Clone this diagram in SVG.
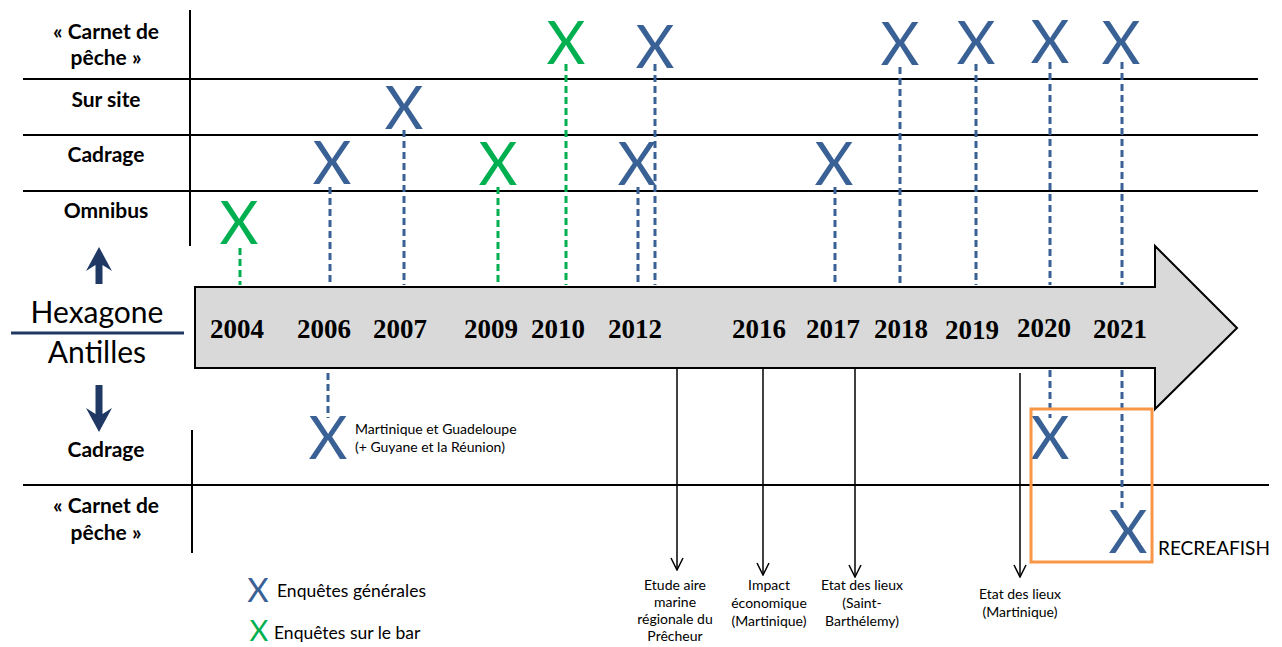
<svg xmlns="http://www.w3.org/2000/svg" width="1282" height="647" viewBox="0 0 1282 647">
<defs>
<style>
.grid{stroke:#000;stroke-width:2;fill:none}
.rowlbl{font-family:Lato,"Liberation Sans",sans-serif;font-weight:bold;font-size:21px;fill:#000;text-anchor:middle}
.xb{font-family:Lato,"Liberation Sans",sans-serif;font-size:60px;fill:#3A6195;text-anchor:middle}
.xg{font-family:Lato,"Liberation Sans",sans-serif;font-size:60px;fill:#00B050;text-anchor:middle}
.yr{font-family:"Liberation Serif","Times New Roman",serif;font-weight:bold;font-size:27px;fill:#000;text-anchor:middle}
.dashb{stroke:#3A6195;stroke-width:3;stroke-dasharray:7 4;fill:none}
.dashg{stroke:#00B050;stroke-width:3;stroke-dasharray:7 4;fill:none}
.blk{stroke:#000;stroke-width:1.5;fill:none}
.note{font-family:Lato,"Liberation Sans",sans-serif;font-size:14px;fill:#000;text-anchor:middle}
.small{font-family:Lato,"Liberation Sans",sans-serif;font-size:14px;fill:#000}
.navy{fill:#1F3864}
</style>
<marker id="open" viewBox="0 0 14 14" refX="13" refY="7" markerWidth="14" markerHeight="14" markerUnits="userSpaceOnUse" orient="auto">
<path d="M1,1 L13,7 L1,13" fill="none" stroke="#000" stroke-width="1.5"/>
</marker>
</defs>
<rect width="1282" height="647" fill="#fff"/>

<g id="grid">
<line class="grid" x1="190" y1="10" x2="190" y2="246"/>
<line class="grid" x1="23" y1="79" x2="1258" y2="79"/>
<line class="grid" x1="23" y1="135" x2="1258" y2="135"/>
<line class="grid" x1="23" y1="191" x2="1258" y2="191"/>
<line class="grid" x1="192" y1="430" x2="192" y2="553"/>
<line class="grid" x1="23" y1="485" x2="1269" y2="485"/>
</g>

<g id="timeline-arrow">
<path d="M195,287 L1155,287 L1155,246 L1237,328 L1155,409 L1155,368 L195,368 Z" fill="#D9D9D9" stroke="#000" stroke-width="2"/>
</g>

<g id="row-labels">
<text class="rowlbl" x="106" y="39">« Carnet de</text>
<text class="rowlbl" x="106" y="65">pêche »</text>
<text class="rowlbl" x="106" y="107">Sur site</text>
<text class="rowlbl" x="106" y="162">Cadrage</text>
<text class="rowlbl" x="106" y="218">Omnibus</text>
<text class="rowlbl" x="106" y="457">Cadrage</text>
<text class="rowlbl" x="106" y="513">« Carnet de</text>
<text class="rowlbl" x="106" y="540">pêche »</text>
</g>

<g id="hexagone-antilles">
<text x="97" y="323" font-family="Lato,'Liberation Sans',sans-serif" font-size="30" text-anchor="middle" fill="#000">Hexagone</text>
<line x1="11" y1="333" x2="184" y2="333" stroke="#1F3864" stroke-width="3"/>
<text x="97" y="363" font-family="Lato,'Liberation Sans',sans-serif" font-size="30" text-anchor="middle" fill="#000">Antilles</text>
<polygon class="navy" points="99,247 112,271 102.5,265 102.5,284 95.5,284 95.5,265 86,271"/>
<polygon class="navy" points="99,432 112,408 102.5,414 102.5,385 95.5,385 95.5,414 86,408"/>
</g>

<g id="years">
<text class="yr" x="237" y="338">2004</text>
<text class="yr" x="324" y="338">2006</text>
<text class="yr" x="400" y="338">2007</text>
<text class="yr" x="491" y="338">2009</text>
<text class="yr" x="558" y="338">2010</text>
<text class="yr" x="635" y="338">2012</text>
<text class="yr" x="759" y="338">2016</text>
<text class="yr" x="833" y="338">2017</text>
<text class="yr" x="901" y="338">2018</text>
<text class="yr" x="972" y="339">2019</text>
<text class="yr" x="1044" y="337">2020</text>
<text class="yr" x="1120" y="338">2021</text>
</g>

<g id="connectors">
<line class="dashg" x1="240" y1="248" x2="240" y2="285"/>
<line class="dashb" x1="330" y1="187" x2="330" y2="285"/>
<line class="dashb" x1="328" y1="373" x2="328" y2="418"/>
<line class="dashb" x1="404" y1="130" x2="404" y2="285"/>
<line class="dashg" x1="498" y1="187" x2="498" y2="285"/>
<line class="dashg" x1="566" y1="64" x2="566" y2="285"/>
<line class="dashb" x1="638" y1="187" x2="638" y2="285"/>
<line class="dashb" x1="655" y1="64" x2="655" y2="285"/>
<line class="dashb" x1="835" y1="187" x2="835" y2="285"/>
<line class="dashb" x1="900" y1="67" x2="900" y2="285"/>
<line class="dashb" x1="976" y1="64" x2="976" y2="285"/>
<line class="dashb" x1="1050" y1="62" x2="1050" y2="285"/>
<line class="dashb" x1="1122" y1="62" x2="1122" y2="285"/>
<line class="dashb" x1="1050" y1="370" x2="1050" y2="418"/>
<line class="dashb" x1="1122" y1="370" x2="1122" y2="508"/>
<line class="blk" x1="677" y1="369" x2="677" y2="570" marker-end="url(#open)"/>
<line class="blk" x1="763" y1="369" x2="763" y2="575" marker-end="url(#open)"/>
<line class="blk" x1="855" y1="369" x2="855" y2="577" marker-end="url(#open)"/>
<line class="blk" x1="1020" y1="373" x2="1020" y2="577" marker-end="url(#open)"/>
</g>

<g id="marks">
<text class="xg" x="566" y="64">X</text>
<text class="xb" x="655" y="68">X</text>
<text class="xb" x="900" y="65">X</text>
<text class="xb" x="976" y="64">X</text>
<text class="xb" x="1050" y="63">X</text>
<text class="xb" x="1121" y="64">X</text>
<text class="xb" x="404" y="129">X</text>
<text class="xb" x="332" y="184">X</text>
<text class="xg" x="498" y="185">X</text>
<text class="xb" x="637" y="185">X</text>
<text class="xb" x="834" y="185">X</text>
<text class="xg" x="239" y="244">X</text>
<text class="xb" x="328" y="459">X</text>
<text class="xb" x="1050" y="459">X</text>
<text class="xb" x="1128" y="553">X</text>
</g>

<g id="annotation-2006">
<text class="small" x="355" y="434">Martinique et Guadeloupe</text>
<text class="small" x="355" y="452">(+ Guyane et la Réunion)</text>
</g>

<g id="recreafish">
<rect x="1031" y="409" width="121" height="153" fill="none" stroke="#F79646" stroke-width="3"/>
<text x="1158" y="555" font-family="Lato,'Liberation Sans',sans-serif" font-size="19" fill="#000">RECREAFISH</text>
</g>

<g id="study-labels">
<text class="note" x="675" y="590">Etude aire</text>
<text class="note" x="675" y="607">marine</text>
<text class="note" x="675" y="624">régionale du</text>
<text class="note" x="675" y="641">Prêcheur</text>
<text class="note" x="769" y="590">Impact</text>
<text class="note" x="769" y="608">économique</text>
<text class="note" x="769" y="626">(Martinique)</text>
<text class="note" x="862" y="590">Etat des lieux</text>
<text class="note" x="862" y="608">(Saint-</text>
<text class="note" x="862" y="626">Barthélemy)</text>
<text class="note" x="1020" y="599">Etat des lieux</text>
<text class="note" x="1020" y="617">(Martinique)</text>
</g>

<g id="legend">
<text x="258" y="602" font-family="Lato,'Liberation Sans',sans-serif" font-size="33" fill="#3A6195" text-anchor="middle">X</text>
<text x="277" y="597" font-family="Lato,'Liberation Sans',sans-serif" font-size="17.5" fill="#000">Enquêtes générales</text>
<text x="259" y="641" font-family="Lato,'Liberation Sans',sans-serif" font-size="29" fill="#00B050" text-anchor="middle">X</text>
<text x="274" y="639" font-family="Lato,'Liberation Sans',sans-serif" font-size="17.5" fill="#000">Enquêtes sur le bar</text>
</g>
</svg>
